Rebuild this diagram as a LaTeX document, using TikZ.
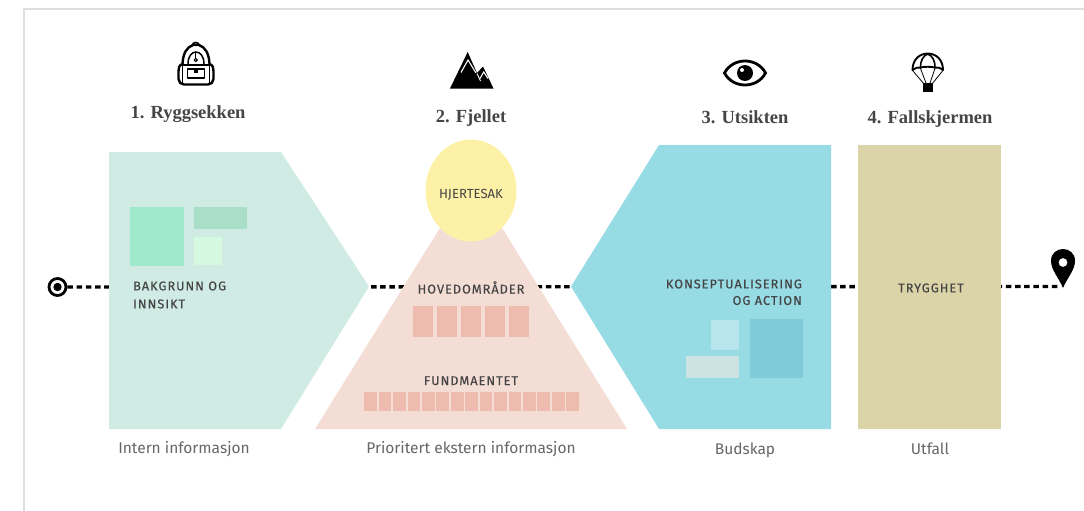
\documentclass[tikz,border=0pt]{standalone}
\usetikzlibrary{shapes.geometric}
\usepackage{fontspec}
\setmainfont{Fira Sans}
\newfontfamily\titlefont{Liberation Serif}
\newfontfamily\capsfont[LetterSpace=8,FakeBold=0.25]{Fira Sans}
\definecolor{txt}{HTML}{454545}
\definecolor{capt}{HTML}{666666}
\definecolor{greenbg}{HTML}{CFEBE3}
\definecolor{greena}{HTML}{9FE8CC}
\definecolor{greenb}{HTML}{A9DFC8}
\definecolor{greenc}{HTML}{D5F8E0}
\definecolor{pinkbg}{HTML}{F3DDD5}
\definecolor{pinkbox}{HTML}{EDBCAF}
\definecolor{yellowbg}{HTML}{FDF1A7}
\definecolor{bluebg}{HTML}{97DBE4}
\definecolor{bluea}{HTML}{7FCBD7}
\definecolor{blueb}{HTML}{B8E5EC}
\definecolor{bluec}{HTML}{CDE3E2}
\definecolor{khakibg}{HTML}{DBD4A8}
\tikzset{
  x=1pt,y=-1pt,
  title/.style={font=\titlefont\bfseries\fontsize{18.5}{21}\selectfont,text=txt,inner sep=0pt,anchor=base},
  caption/.style={font=\fontsize{15.5}{18}\selectfont,text=capt,inner sep=0pt,anchor=base},
  caps/.style={font=\capsfont\fontsize{12.7}{16}\selectfont,text=txt,inner sep=0pt},
  pathline/.style={line width=3.4pt,black,dash pattern=on 5.5pt off 3.7pt},
  icon/.style={line width=2.4pt,black,line join=round,line cap=round},
  thinicon/.style={line width=1.2pt,black,line join=round,line cap=round}
}
\begin{document}
\begin{tikzpicture}
\useasboundingbox (0,0) rectangle (1084,511);
\draw[color=black!13,line width=2pt] (23.5,511) -- (23.5,9.5) -- (1084,9.5);

% route
\node[circle,draw=black,line width=2.8pt,fill=white,minimum size=17pt,inner sep=0pt] (start) at (57.5,287) {};
\fill[black] (start) circle (4.2pt);
\coordinate (goal) at (1058,286.5);
\draw[pathline] (start.east) -- (goal);

% pin
\fill[black,even odd rule] (1063,288) .. controls (1059,278) and (1051,270) .. (1051,261)
  .. controls (1051,253) and (1057,249) .. (1063,249)
  .. controls (1069,249) and (1075,253) .. (1075,261)
  .. controls (1075,270) and (1067,278) .. (1063,288) -- cycle
  (1063,262.5) circle (4.5);

% shapes
\fill[greenbg] (109,152) -- (281,152) -- (369,286.5) -- (281,429) -- (109,429) -- cycle;
\fill[pinkbg] (315,429) -- (471,178) -- (627,429) -- cycle;
\fill[bluebg] (659,145) -- (831,145) -- (831,429) -- (659,429) -- (571,286.5) -- cycle;
\fill[khakibg] (858,145) rectangle (1001,429);
\node[ellipse,fill=yellowbg,minimum width=91pt,minimum height=102pt,inner sep=0pt] (heart) at (471,190.5) {};

% inner boxes
\fill[greena] (130,207) rectangle (184,266);
\fill[greenb] (194,207) rectangle (247,229);
\fill[greenc] (194,237) rectangle (222,265);
\fill[bluea] (750,318.5) rectangle (803,378);
\fill[blueb] (711,320) rectangle (739,350);
\fill[bluec] (686,356) rectangle (739,378);
\foreach \i in {0,...,4} \fill[pinkbox] (412.7+24*\i,305.7) rectangle (433+24*\i,336.7);
\foreach \i in {0,...,14} \fill[pinkbox] (364.3+14.43*\i,391.7) rectangle (377+14.43*\i,410.7);

% labels in shapes
\node[caps,anchor=west] (l1) at (133,286) {BAKGRUNN OG};
\node[caps,anchor=west] (l2) at (133,304) {INNSIKT};
\node[caps,font=\fontsize{13.2}{14}\selectfont] (l3) at (471,195) {HJERTESAK};
\node[caps,anchor=base] (l4) at (471,293.5) {HOVEDOMRÅDER};
\node[caps,anchor=base] (l5) at (471,385) {FUNDMAENTET};
\node[caps,anchor=east] (l6) at (802,284) {KONSEPTUALISERING};
\node[caps,anchor=east] (l7) at (802,300.5) {OG ACTION};
\node[caps] (l8) at (931,288) {TRYGGHET};

% titles
\node[title] (t1) at (188,118.5) {1. Ryggsekken};
\node[title] (t2) at (471,122.5) {2. Fjellet};
\node[title] (t3) at (745,123) {3. Utsikten};
\node[title] (t4) at (930,123) {4. Fallskjermen};

% captions
\node[caption] (c1) at (184,453.5) {Intern informasjon};
\node[caption] (c2) at (471,453.5) {Prioritert ekstern informasjon};
\node[caption] (c3) at (745,454) {Budskap};
\node[caption] (c4) at (930,454) {Utfall};

% backpack icon
\draw[icon,line width=1.6pt] (192,45.5) .. controls (193,41.5) and (198.5,41.5) .. (199.5,45.5);
\draw[icon] (193,45) .. controls (187,47) and (183,53) .. (182.5,64)
  .. controls (179,65) and (178.5,68) .. (178.5,71) -- (178.5,79)
  .. controls (178.5,82) and (181,84.5) .. (184,84.5) -- (208,84.5)
  .. controls (211,84.5) and (213.5,82) .. (213.5,79) -- (213.5,71)
  .. controls (213.5,68) and (213,65) .. (209.5,64)
  .. controls (209,53) and (205,47) .. (199,45) -- cycle;
\draw[thinicon,line width=1.5pt] (188,64) .. controls (188,48) and (204,48) .. (204,64);
\draw[thinicon] (195.8,52) -- (195.8,58);
\draw[thinicon,line width=1pt] (195.8,60) circle (1.6);
\draw[icon,line width=1.8pt] (182.5,65) -- (209.5,65);
\draw[icon,line width=1.6pt] (182.5,65) -- (182.5,84) (209.5,65) -- (209.5,84);
\draw[icon,line width=1.8pt] (187.5,69) rectangle (204.5,78);
\fill[black] (193.5,68) rectangle (198,73.5);

% mountain icon
\fill[black] (450,88.5) -- (467.7,52) -- (477,73) -- (483,66.5) -- (493.5,88.5) -- cycle;
\draw[white,line width=1.1pt] (461,72.5) -- (468,60) -- (476,73);
\draw[white,line width=1.1pt] (480,78.5) -- (483.7,72) -- (488,78.5);
\draw[white,line width=0.9pt] (477,73.5) -- (480.5,81);

% eye icon
\draw[black,line width=2.8pt,line join=miter] (724.5,73) .. controls (733,57) and (757,57) .. (765.5,73) .. controls (757,89) and (733,89) .. (724.5,73) -- cycle;
\fill[black] (745,73) circle (8);
\fill[white] (742,70) circle (2);

% parachute icon
\draw[icon,line width=1.9pt] (912.5,70) .. controls (912.5,48) and (943,48) .. (943,70)
  .. controls (941,68) and (938,67) .. (935,67.5) .. controls (930,66.5) and (925,66.5) .. (920.5,67.5)
  .. controls (918,67) and (915,68) .. (912.5,70) -- cycle;
\draw[thinicon,line width=1.6pt] (920.5,68) .. controls (920.5,60) and (923,56) .. (927.7,54) .. controls (932.5,56) and (935,60) .. (935,68);
\draw[thinicon,line width=0.8pt] (913,71) -- (924,84) (920.5,68.5) -- (926,83) (935,68.5) -- (930,83) (942.5,71) -- (932,84);
\fill[black] (923,83) rectangle (932.5,92);
\end{tikzpicture}
\end{document}
